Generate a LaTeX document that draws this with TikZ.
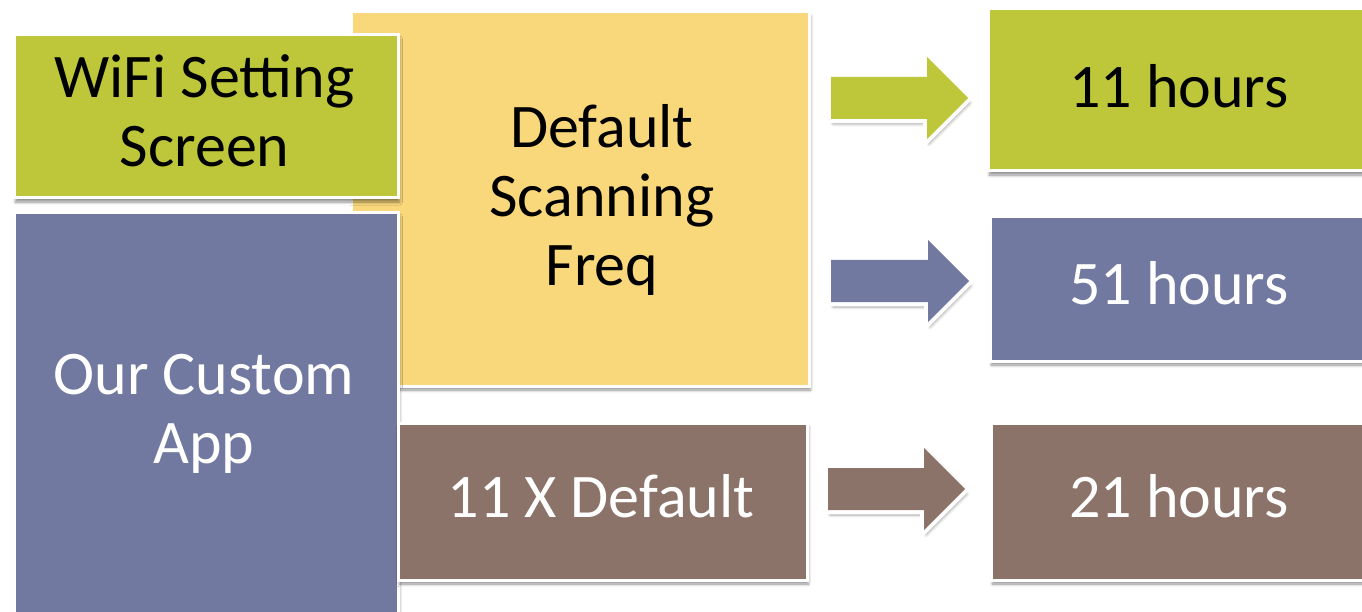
\documentclass[tikz,border=0pt]{standalone}
\usepackage{fontspec}
\setmainfont{Carlito}
\usetikzlibrary{shadows.blur}

\definecolor{leaf}{RGB}{189,199,57}
\definecolor{sand}{RGB}{249,216,124}
\definecolor{slate}{RGB}{113,121,160}
\definecolor{clay}{RGB}{140,115,106}

\tikzset{
  panel/.style={draw=white, line width=3pt, inner sep=0pt, anchor=north west,
    blur shadow={shadow xshift=1.5pt, shadow yshift=-4pt, shadow blur steps=6,
                 shadow blur radius=3pt, shadow opacity=45}},
  blockarrow/.style={line join=miter,
    preaction={draw=white, line width=8pt, line join=miter,
      blur shadow={shadow xshift=2pt, shadow yshift=-5pt, shadow blur steps=6,
                   shadow blur radius=3pt, shadow opacity=35}}},
  caption/.style={font=\fontsize{62}{69}\selectfont, align=center, anchor=base, inner sep=0pt},
}

\begin{document}
\begin{tikzpicture}[x=1pt, y=-1pt]
  \useasboundingbox (0,0) rectangle (1362,612);
  \clip (0,0) rectangle (1362,612);

  % left column and the scanning-frequency panel behind it
  \node[panel, fill=sand, minimum width=458pt, minimum height=374pt] (freq) at (349.5,10.5) {};
  \node[panel, fill=leaf, minimum width=384pt, minimum height=163pt] (wifi) at (12.5,33.5) {};
  \node[panel, fill=slate, minimum width=384pt, minimum height=400pt] (custom) at (12.5,211.5) {};
  \node[panel, fill=clay, minimum width=409pt, minimum height=157pt] (elevenx) at (396.5,421.5) {};

  % result panels on the right
  \node[panel, fill=leaf, minimum width=386pt, minimum height=162pt] (res1) at (986.5,7.5) {};
  \node[panel, fill=slate, minimum width=384pt, minimum height=144pt] (res2) at (988.5,215.5) {};
  \node[panel, fill=clay, minimum width=383pt, minimum height=157pt] (res3) at (989.5,421.5) {};

  % block arrows
  \fill[blockarrow, fill=leaf] (831,77) -- (927,77) -- (927,57) -- (968,98)
    -- (927,139) -- (927,119) -- (831,119) -- cycle;
  \fill[blockarrow, fill=slate] (831,260) -- (928,260) -- (928,240) -- (969,281)
    -- (928,322) -- (928,302) -- (831,302) -- cycle;
  \fill[blockarrow, fill=clay] (828,468) -- (924,468) -- (924,448) -- (965,489)
    -- (924,530) -- (924,510) -- (828,510) -- cycle;

  % captions (anchored at the baseline of the last line)
  \node[caption] (twifi) at (204.5,167) {WiFi Setting\\Screen};
  \node[caption] (tfreq) at (602,285) {Default\\Scanning\\Freq};
  \node[caption, text=white] (tcustom) at (204,463) {Our Custom\\App};
  \node[caption, text=white] (televenx) at (601,517) {11 X Default};
  \node[caption] (tres1) at (1179,108) {11 hours};
  \node[caption, text=white] (tres2) at (1179,305) {51 hours};
  \node[caption, text=white] (tres3) at (1179,517) {21 hours};
\end{tikzpicture}
\end{document}
